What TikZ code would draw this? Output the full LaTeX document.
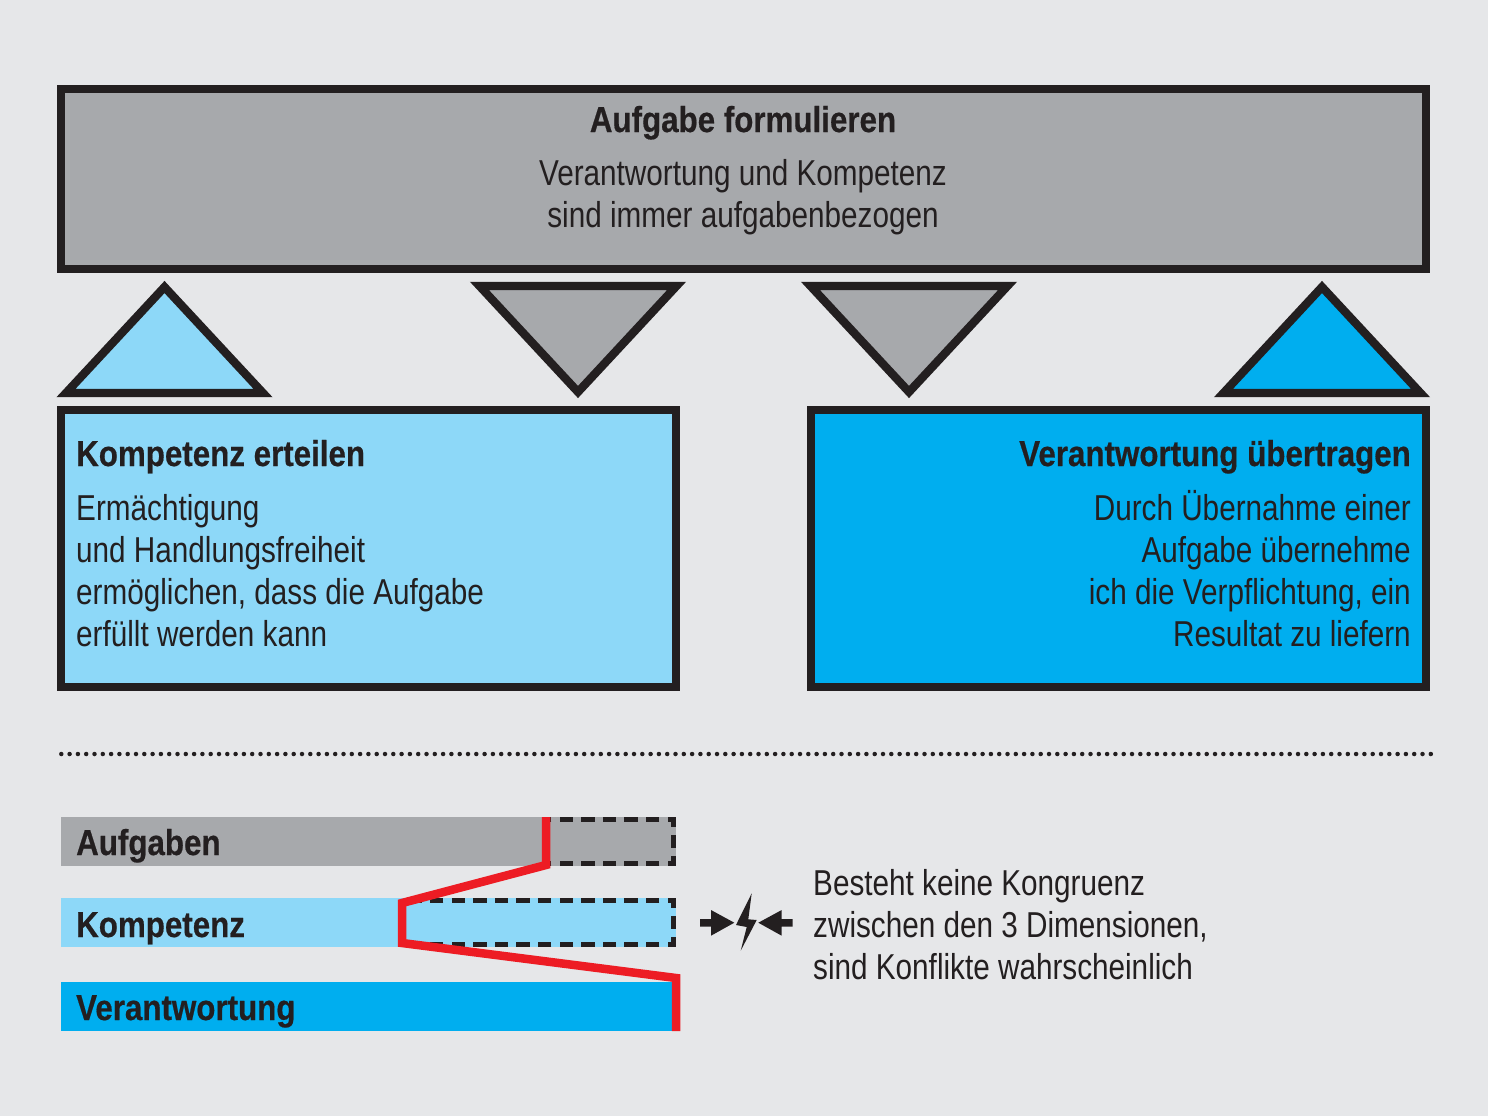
\documentclass[tikz,border=0pt]{standalone}
\usepackage{fontspec}
\setmainfont[FakeStretch=0.825]{Liberation Sans}
\newfontfamily\headfont[FakeStretch=0.87,BoldFeatures={FakeBold=0.5}]{Liberation Sans}
\usetikzlibrary{positioning}
\definecolor{paper}{HTML}{E6E7E9}
\definecolor{taskgrey}{HTML}{A7A9AC}
\definecolor{paleblue}{HTML}{8DD8F8}
\definecolor{strongblue}{HTML}{00AEEF}
\definecolor{ink}{HTML}{231F20}
\definecolor{alarm}{HTML}{ED1C24}
\tikzset{
  bigbox/.style={draw=ink,line width=8pt,inner sep=0pt,outer sep=0pt,anchor=north west},
  tri/.style={draw=ink,line width=8.3pt,miter limit=10,line join=miter},
  headtext/.style={inner sep=0pt,text=ink,font=\fontsize{36}{42}\headfont\bfseries},
  bodytext/.style={inner sep=0pt,text=ink,font=\fontsize{36}{41.7}\selectfont},
  bar/.style={inner sep=0pt,outer sep=0pt,anchor=north west,minimum width=615pt,minimum height=49pt},
  missing/.style={draw=ink,line width=4.6pt,dash pattern=on 13.3pt off 8.3pt,dash phase=6.65pt}
}
\begin{document}
\begin{tikzpicture}[x=1pt,y=-1pt]
   \useasboundingbox (0,0) rectangle (1488,1116);
   \fill[paper] (0,0) rectangle (1488,1116);

   % boxes
   \node[bigbox,fill=taskgrey,minimum width=1365pt,minimum height=180pt] (task) at (61,89) {};
   \node[bigbox,fill=paleblue,minimum width=615pt,minimum height=277pt] (komp) at (61,410) {};
   \node[bigbox,fill=strongblue,minimum width=615pt,minimum height=277pt] (verant) at (811,410) {};

   \node[headtext,anchor=base] (taskHead) at (743,132) {Aufgabe formulieren};
   \node[bodytext,anchor=base,align=center] (taskBody) at (743,227) {Verantwortung und Kompetenz\\sind immer aufgabenbezogen};
   \node[headtext,anchor=base west] (kompHead) at (76,466) {Kompetenz erteilen};
   \node[bodytext,anchor=base west,align=left] (kompBody) at (76,646) {Ermächtigung\\und Handlungsfreiheit\\ermöglichen, dass die Aufgabe\\erfüllt werden kann};
   \node[headtext,anchor=base east] (verantHead) at (1411,466) {Verantwortung übertragen};
   \node[bodytext,anchor=base east,align=right] (verantBody) at (1411,646) {Durch Übernahme einer\\Aufgabe übernehme\\ich die Verpflichtung, ein\\Resultat zu liefern};

   % triangles
   \draw[tri,fill=paleblue] (66,393) -- (164.5,287) -- (263,393) -- cycle;
   \draw[tri,fill=taskgrey] (479.5,286) -- (578,392) -- (676.5,286) -- cycle;
   \draw[tri,fill=taskgrey] (810.5,286) -- (909,392) -- (1007.5,286) -- cycle;
   \draw[tri,fill=strongblue] (1223.5,393) -- (1322,287) -- (1420.5,393) -- cycle;

   \draw[ink,line width=4.5pt,line cap=round,dash pattern=on 0pt off 8.3pt] (61.3,754) -- (1431,754);

   % bars
   \node[bar,fill=taskgrey] (barTask) at (61,817) {};
   \node[bar,fill=paleblue] (barKomp) at (61,898) {};
   \node[bar,fill=strongblue] (barVerant) at (61,982) {};
   \node[headtext,anchor=base west] (barTaskText) at (76,855) {Aufgaben};
   \node[headtext,anchor=base west] (barKompText) at (76,937) {Kompetenz};
   \node[headtext,anchor=base west] (barVerantText) at (76,1020) {Verantwortung};

   \draw[missing] (673.7,841.5) -- (673.7,819.3) -- (546,819.3);
   \draw[missing] (673.7,841.5) -- (673.7,863.7) -- (546,863.7);
   \draw[missing] (673.7,922.5) -- (673.7,900.3) -- (402,900.3);
   \draw[missing] (673.7,922.5) -- (673.7,944.7) -- (402,944.7);

   \coordinate (r1) at (546,817);
   \coordinate (r2) at (546,865);
   \coordinate (r3) at (402,903);
   \coordinate (r4) at (402,943);
   \coordinate (r5) at (676,978);
   \coordinate (r6) at (676,1031);
   \draw[alarm,line width=8.5pt,miter limit=10] (r1) -- (r2) -- (r3) -- (r4) -- (r5) -- (r6);

   % clash sign
   \fill[ink] (700,919) -- (711,919) -- (711,910) -- (734.3,922.7) -- (711,935.7) -- (711,926.7) -- (700,926.7) -- cycle;
   \fill[ink] (792.7,919) -- (781.7,919) -- (781.7,910) -- (758.3,922.7) -- (781.7,935.7) -- (781.7,926.7) -- (792.7,926.7) -- cycle;
   \fill[ink] (751.7,893.3) -- (736,925) -- (746.7,927) -- (740.7,950.7) -- (756.7,920) -- (748.3,919.3) -- cycle;

   \node[bodytext,anchor=base west,align=left] (note) at (813,979) {Besteht keine Kongruenz\\zwischen den 3 Dimensionen,\\sind Konflikte wahrscheinlich};
\end{tikzpicture}
\end{document}
